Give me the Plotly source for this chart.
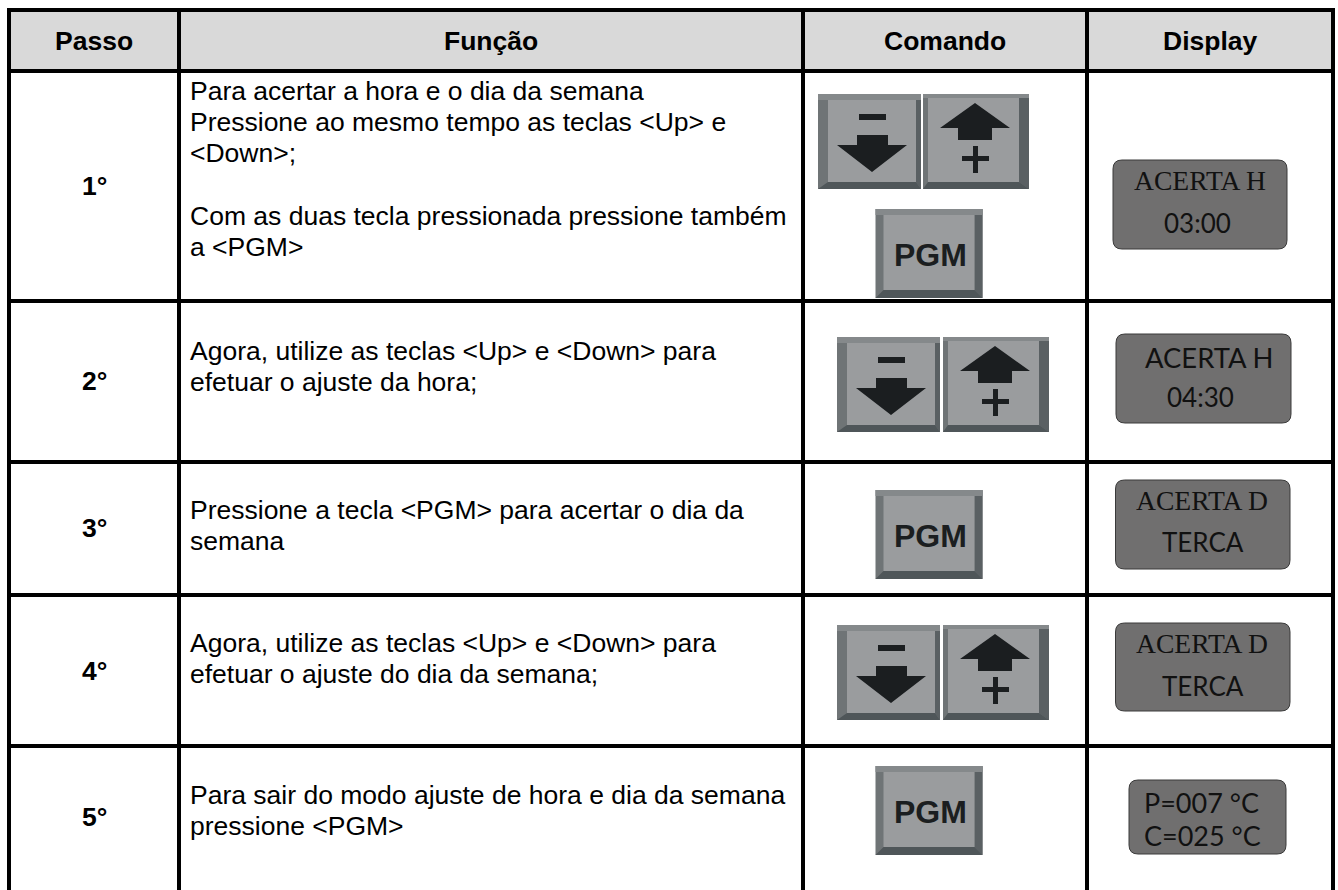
import plotly.graph_objects as go

# ---- content ----
headers = ["Passo", "Função", "Comando", "Display"]
steps = ["1°", "2°", "3°", "4°", "5°"]
functions = [
    ["Para acertar a hora e o dia da semana",
     "Pressione ao mesmo tempo as teclas &lt;Up&gt; e",
     "&lt;Down&gt;;", "",
     "Com as duas tecla pressionada pressione também",
     "a &lt;PGM&gt;"],
    ["Agora, utilize as teclas &lt;Up&gt; e &lt;Down&gt; para",
     "efetuar o ajuste da hora;"],
    ["Pressione a tecla &lt;PGM&gt; para acertar o dia da",
     "semana"],
    ["Agora, utilize as teclas &lt;Up&gt; e &lt;Down&gt; para",
     "efetuar o ajuste do dia da semana;"],
    ["Para sair do modo ajuste de hora e dia da semana",
     "pressione &lt;PGM&gt;"],
]
display_l1 = ["ACERTA H", "ACERTA H", "ACERTA D", "ACERTA D", "P=007 °C"]
display_l2 = ["03:00", "04:30", "TERCA", "TERCA", "C=025 °C"]

# ---- layout (page pixels) ----
W, H = 1338, 890
col_x = [9, 179, 803, 1087, 1333]
row_y = [10, 71, 301, 462, 595, 746]
text_x = 190
first_line_y = [91, 351, 510, 643, 795]
line_h = 31.2
FS = 26.5
shapes = []
ann = []

def rect(x0, y0, x1, y1, fill, line=None, lw=0):
    shapes.append(dict(type="rect", x0=x0, y0=y0, x1=x1, y1=y1, fillcolor=fill,
                       line=dict(color=line or fill, width=lw), layer="above"))

def poly(points, fill):
    d = "M" + " L".join(f"{x},{y}" for x, y in points) + " Z"
    shapes.append(dict(type="path", path=d, fillcolor=fill, line=dict(width=0), layer="above"))

def rrect(x0, y0, x1, y1, r, fill, line):
    d = (f"M{x0+r},{y0} L{x1-r},{y0} Q{x1},{y0} {x1},{y0+r} L{x1},{y1-r} Q{x1},{y1} {x1-r},{y1} "
         f"L{x0+r},{y1} Q{x0},{y1} {x0},{y1-r} L{x0},{y0+r} Q{x0},{y0} {x0+r},{y0} Z")
    shapes.append(dict(type="path", path=d, fillcolor=fill, line=dict(color=line, width=1), layer="above"))

def text(x, y, s, size=FS, font="Liberation Sans", anchor="left", color="#000000", bold=False):
    ann.append(dict(x=x, y=y, text=f"<b>{s}</b>" if bold else s, showarrow=False, xanchor=anchor,
                    yanchor="middle", font=dict(family=font, size=size, color=color),
                    borderpad=0, borderwidth=0))

INK = "#1b1e20"
FACE = "#9a9c9e"
DISP_INK = "#111111"

def key_base(x, y, w, h, l, t, r, b):
    rect(x, y, x + w, y + h, "#6f7476")
    poly([(x + w, y), (x + w - r, y + t), (x + w - r, y + h - b), (x + w, y + h)], "#5a6063")
    rect(x, y, x + w, y + t, "#85898b")
    poly([(x, y + h), (x + l, y + h - b), (x + w - r, y + h - b), (x + w, y + h)], "#4f5659")
    rect(x + l, y + t, x + w - r, y + h - b, FACE)

def key_down(x, y):
    key_base(x, y, 103, 95, 10, 6, 5, 7)
    rect(x + 41, y + 20, x + 68, y + 26, INK)
    poly([(x + 39, y + 41), (x + 70, y + 41), (x + 70, y + 51), (x + 89, y + 51),
          (x + 54, y + 78), (x + 19, y + 51), (x + 39, y + 51)], INK)

def key_up(x, y):
    key_base(x, y, 106, 95, 5, 4, 10, 7)
    poly([(x + 52, y + 9), (x + 87, y + 34), (x + 69, y + 34), (x + 69, y + 46),
          (x + 35, y + 46), (x + 35, y + 34), (x + 17, y + 34)], INK)
    rect(x + 39, y + 62, x + 66, y + 67, INK)
    rect(x + 50, y + 52, x + 55, y + 79, INK)

def key_pgm(x, y):
    key_base(x, y, 107, 89, 8, 6, 8, 8)
    text(x + 54.5, y + 46, "PGM", size=32, font="Liberation Sans", anchor="center", color=INK, bold=True)

# header band and grid
rect(col_x[0], row_y[0], col_x[-1], row_y[1], "#d9d9d9")
for x in col_x:
    shapes.append(dict(type="line", x0=x, x1=x, y0=row_y[0] - 2, y1=H, line=dict(color="#000000", width=4), layer="above"))
for y in row_y:
    shapes.append(dict(type="line", x0=col_x[0] - 2, x1=col_x[-1] + 2, y0=y, y1=y, line=dict(color="#000000", width=4), layer="above"))

# header text
for i, h in enumerate(headers):
    text((col_x[i] + col_x[i + 1]) / 2, 41, h, anchor="center", bold=True)

# rows
step_y = [186, 381, 528, 671, 817]
for i, s in enumerate(steps):
    text((col_x[0] + col_x[1]) / 2, step_y[i], s, anchor="center", bold=True)
    for j, line in enumerate(functions[i]):
        if line:
            text(text_x, first_line_y[i] + j * line_h, line)

# keys
key_down(818, 94); key_up(923, 94); key_pgm(875.5, 209)
key_down(837, 337); key_up(943, 337)
key_pgm(875.5, 490)
key_down(837, 625); key_up(943, 625)
key_pgm(875.5, 766)

# displays
boxes = [(1113, 160, 1287, 249), (1116, 334, 1291, 423), (1115.5, 480, 1290, 569), (1115.5, 623, 1290, 711), (1129, 780, 1286, 854)]
for b in boxes:
    rrect(*b, 9, "#706f6f", "#3a3a3a")
SERIF, GEO = "Liberation Serif", "Lato"
l1 = [(1199.5, 180, SERIF, 27.6), (1209, 357, GEO, 27.4), (1202, 500, SERIF, 27.6), (1202, 643, SERIF, 27.6)]
l2 = [(1197, 223), (1200, 397), (1203, 542), (1203, 686)]
for i in range(4):
    text(l1[i][0], l1[i][1], display_l1[i], size=l1[i][3], font=l1[i][2], anchor="center", color=DISP_INK)
    text(l2[i][0], l2[i][1], display_l2[i], size=26, font=GEO, anchor="center", color=DISP_INK)
text(1144, 802, display_l1[4], size=27, font=GEO, color=DISP_INK)
text(1144, 835, display_l2[4], size=27, font=GEO, color=DISP_INK)

fig = go.Figure()
fig.update_layout(width=W, height=H, margin=dict(l=0, r=0, t=0, b=0),
                  paper_bgcolor="white", plot_bgcolor="white", showlegend=False,
                  shapes=shapes, annotations=ann,
                  xaxis=dict(range=[0, W], visible=False, fixedrange=True),
                  yaxis=dict(range=[H, 0], visible=False, fixedrange=True))
fig.write_html("out.html", config=dict(displayModeBar=False),
               post_script="document.body.style.margin='0';document.documentElement.style.overflow='hidden';")
